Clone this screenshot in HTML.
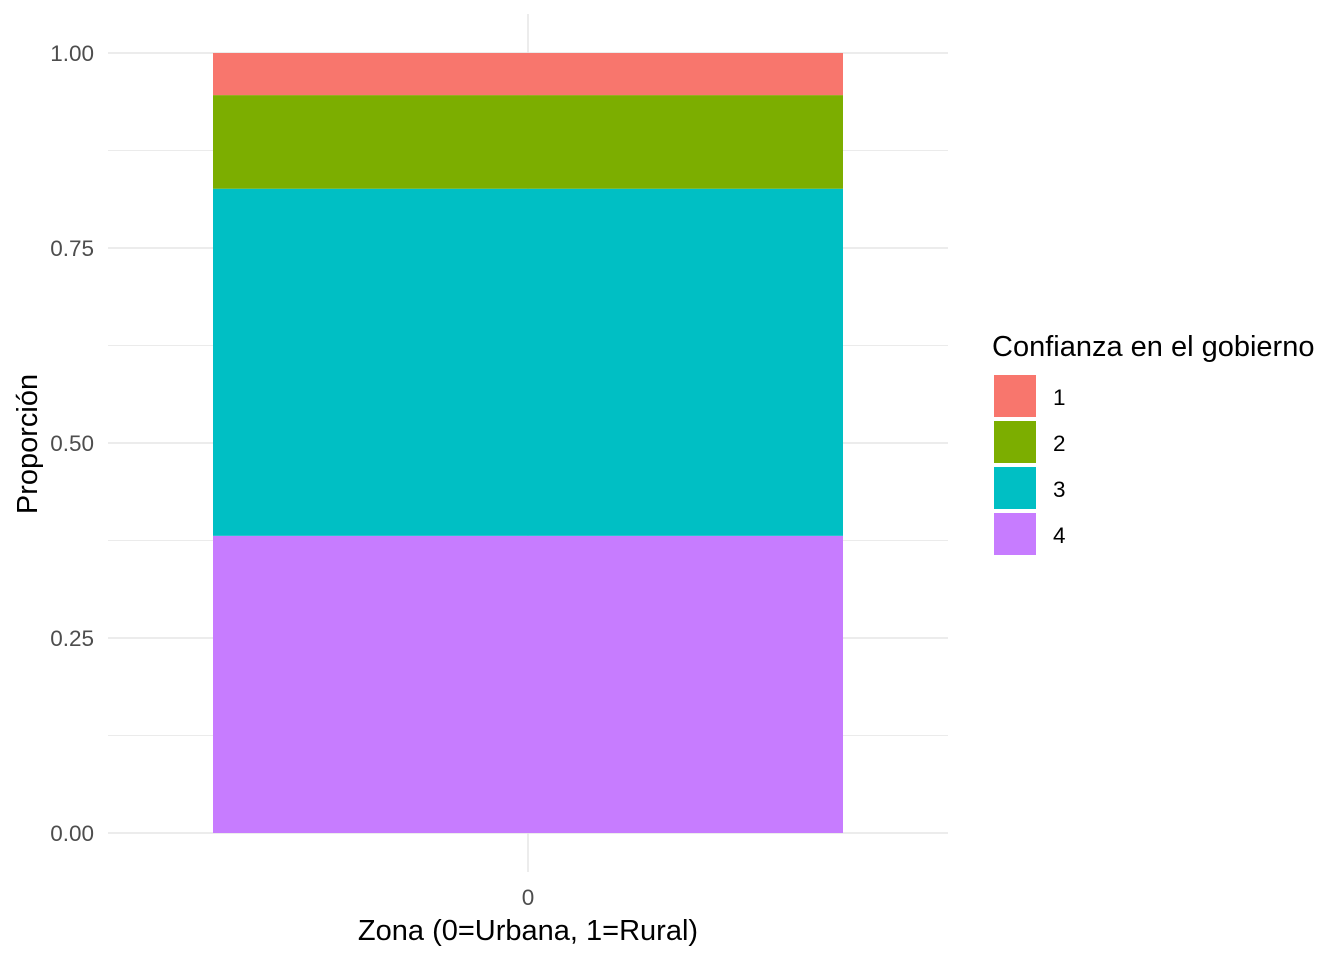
<!DOCTYPE html>
<html><head><meta charset="utf-8">
<style>
body{margin:0;background:#fff;}
svg{display:block;font-family:"Liberation Sans",Arial,sans-serif;}
</style></head>
<body>
<svg id="chart" width="1344" height="960" viewBox="0 0 1344 960" xmlns="http://www.w3.org/2000/svg">
<g id="grid"></g>
<g id="bars"></g>
<g id="yaxis"></g>
<text x="528" y="905" font-size="22.5" fill="#4d4d4d" text-anchor="middle">0</text>
<text x="528" y="940" font-size="29" fill="#000" text-anchor="middle">Zona (0=Urbana, 1=Rural)</text>
<text transform="translate(37,444) rotate(-90)" font-size="29" fill="#000" text-anchor="middle">Proporción</text>
<g id="legend">
<text x="992" y="356" font-size="29" fill="#000">Confianza en el gobierno</text>
</g>
</svg>
<script>
const categories = ["1","2","3","4"];
const proportions = [0.054, 0.120, 0.445, 0.381];
const yTicks = [0, 0.25, 0.5, 0.75, 1.0];
const yTickLabels = ["0.00","0.25","0.50","0.75","1.00"];
const colors = ["#F8766D","#7CAE00","#00BFC4","#C77CFF"];

const NS="http://www.w3.org/2000/svg";
const y = v => 833 - v*780;
const px0=108, px1=948, bx0=213, bx1=843;
function mk(tag, attrs, parent){const e=document.createElementNS(NS,tag);for(const k in attrs)e.setAttribute(k,attrs[k]);parent.appendChild(e);return e;}
const grid=document.getElementById('grid');
for(let i=0;i<yTicks.length-1;i++){
  const m=(yTicks[i]+yTicks[i+1])/2;
  const l=mk('line',{x1:px0,x2:px1,y1:y(m),y2:y(m),stroke:'#ebebeb','stroke-width':1},grid);
  
  
}
yTicks.forEach(t=>{
  const l=mk('line',{x1:px0,x2:px1,y1:y(t),y2:y(t),stroke:'#e5e5e5','stroke-width':1.5},grid);
  
  
});
const vl=mk('line',{x1:528,x2:528,y1:14,y2:872,stroke:'#e5e5e5','stroke-width':1.5},grid);



const ya=document.getElementById('yaxis');
yTicks.forEach((t,i)=>{
  const tx=mk('text',{x:94,y:y(t)+8,'font-size':22.5,fill:'#4d4d4d','text-anchor':'end'},ya);
  tx.textContent=yTickLabels[i];
  
  
});

const bars=document.getElementById('bars');
let cum=0;
for(let i=categories.length-1;i>=0;i--){
  const top=cum+proportions[i];
  const r=mk('rect',{x:bx0,width:bx1-bx0,y:y(top),height:y(cum)-y(top),fill:colors[i]},bars);
  
  
  cum=top;
}

const lg=document.getElementById('legend');
categories.forEach((c,i)=>{
  const ky=375+i*46;
  const r=mk('rect',{x:994,y:ky,width:42,height:42,fill:colors[i]},lg);
  
  
  const t=mk('text',{x:1053,y:ky+30,'font-size':22.5,fill:'#000'},lg);
  t.textContent=c;
  
  
});
</script>
</body></html>
